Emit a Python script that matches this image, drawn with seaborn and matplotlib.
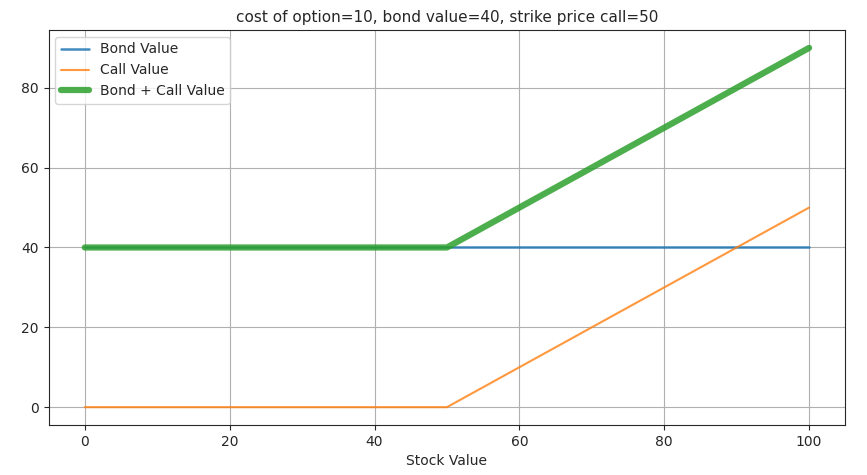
import matplotlib
matplotlib.use("Agg")

import matplotlib.pyplot as plt  # noqa: E402
import seaborn as sns  # noqa: E402

# Data
stock_value = [0, 50, 100]
bond_value = [40, 40, 40]
call_value = [0, 0, 50]
total_value = [40, 40, 90]

sns.set_style("ticks")
plt.rcParams["font.family"] = ["DejaVu Sans"]

fig, ax = plt.subplots(figsize=(8.67, 4.75), dpi=100)
fig.subplots_adjust(left=0.056, right=0.975, top=0.937, bottom=0.105)

sns.lineplot(x=stock_value, y=bond_value, ax=ax, color="#1f77b4", alpha=0.85,
             linewidth=1.8, label="Bond Value")
sns.lineplot(x=stock_value, y=call_value, ax=ax, color="#ff7f0e", alpha=0.8,
             linewidth=1.5, label="Call Value")
sns.lineplot(x=stock_value, y=total_value, ax=ax, color="#2ca02c", alpha=0.85,
             linewidth=4.5, label="Bond + Call Value")

ax.set_title("cost of option=10, bond value=40, strike price call=50", fontsize=11)
ax.set_xlabel("Stock Value")
ax.set_xlim(-5, 105)
ax.set_ylim(-4.5, 94.5)
ax.grid(True, color="#b0b0b0", linewidth=0.8)
ax.legend(loc="upper left", frameon=True)

plt.savefig("out.png", dpi=100)
plt.close()
